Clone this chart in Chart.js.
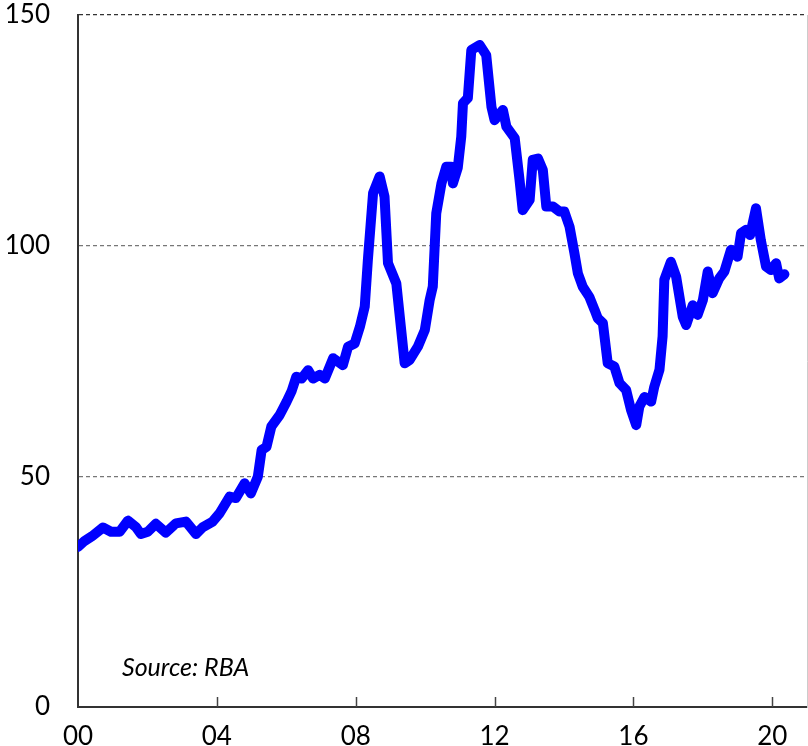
<!DOCTYPE html>
<html>
<head>
<meta charset="utf-8">
<script src="https://cdn.jsdelivr.net/npm/chart.js@4"></script>
<style>
  html, body { margin: 0; padding: 0; background: #fff; }
  #wrap { width: 808px; height: 746px; }
</style>
</head>
<body>
<div id="wrap"><canvas id="chart"></canvas></div>
<script>
// decimal years
const years = [
    2000.00, 2000.19, 2000.40, 2000.72, 2000.95, 2001.20, 2001.44, 2001.67, 2001.81, 2002.01,
    2002.24, 2002.53, 2002.82, 2003.11, 2003.40, 2003.60, 2003.88, 2004.08, 2004.37, 2004.55,
    2004.80, 2004.98, 2005.18, 2005.29, 2005.43, 2005.57, 2005.81, 2006.01, 2006.15, 2006.29,
    2006.44, 2006.63, 2006.77, 2006.96, 2007.11, 2007.35, 2007.63, 2007.78, 2007.97, 2008.12,
    2008.26, 2008.35, 2008.50, 2008.69, 2008.83, 2008.93, 2009.17, 2009.41, 2009.55, 2009.79,
    2009.99, 2010.13, 2010.22, 2010.32, 2010.47, 2010.61, 2010.75, 2010.80, 2010.94, 2011.04,
    2011.09, 2011.23, 2011.33, 2011.57, 2011.76, 2011.91, 2012.00, 2012.24, 2012.34, 2012.58,
    2012.72, 2012.81, 2013.01, 2013.10, 2013.25, 2013.39, 2013.49, 2013.68, 2013.87, 2014.01,
    2014.16, 2014.30, 2014.40, 2014.54, 2014.73, 2014.88, 2014.97, 2015.12, 2015.26, 2015.45,
    2015.60, 2015.79, 2015.93, 2016.08, 2016.17, 2016.32, 2016.51, 2016.60, 2016.75, 2016.84,
    2016.89, 2017.08, 2017.23, 2017.42, 2017.52, 2017.71, 2017.85, 2018.00, 2018.14, 2018.28,
    2018.47, 2018.62, 2018.81, 2019.00, 2019.10, 2019.24, 2019.36, 2019.53, 2019.67, 2019.82,
    2019.96, 2020.11, 2020.20, 2020.35
];
const values = [
    34.7, 36.0, 37.0, 38.9, 38.0, 38.0, 40.4, 39.0, 37.5, 38.0,
    39.7, 37.8, 39.8, 40.2, 37.5, 39.0, 40.2, 42.0, 45.6, 45.3,
    48.5, 46.3, 49.9, 55.7, 56.4, 60.8, 63.3, 66.2, 68.4, 71.6,
    71.2, 73.0, 71.2, 72.0, 71.2, 75.6, 74.1, 78.1, 78.8, 82.4,
    86.8, 96.9, 111.4, 115.0, 110.6, 96.2, 91.8, 74.5, 75.2, 78.1,
    81.7, 88.2, 91.1, 107.0, 113.5, 117.1, 117.1, 113.5, 116.9, 123.6,
    130.9, 132.0, 142.4, 143.5, 141.3, 130.1, 127.2, 129.4, 125.8, 123.3,
    114.2, 107.7, 109.9, 118.6, 118.9, 116.4, 108.5, 108.5, 107.4, 107.4,
    104.1, 98.4, 94.0, 91.1, 88.9, 86.1, 84.3, 83.2, 74.5, 73.8,
    70.2, 68.7, 64.4, 61.1, 65.1, 67.2, 66.2, 69.4, 73.1, 80.3,
    92.6, 96.5, 93.3, 84.6, 82.8, 87.1, 85.0, 88.2, 94.4, 89.7,
    92.9, 94.4, 99.1, 97.6, 102.7, 103.4, 102.3, 108.1, 101.2, 95.5,
    94.7, 96.2, 92.9, 93.8
];
const xTickYears = [2000, 2004, 2008, 2012, 2016, 2020];
const xTickLabels = ['00', '04', '08', '12', '16', '20'];
const yTicks = [0, 50, 100, 150];
const sourceNote = 'Source: RBA';

const FONT = 'Lato, "Open Sans", sans-serif';

const points = years.map((y, i) => ({ x: y, y: values[i] }));

// little tick marks on the x axis, pointing up into the plot
const innerTicks = {
    id: 'innerTicks',
    afterDraw(chart) {
        const ctx = chart.ctx;
        const xs = chart.scales.x;
        const bottom = chart.chartArea.bottom;
        ctx.save();
        ctx.strokeStyle = '#444';
        ctx.lineWidth = 1.5;
        xTickYears.forEach(v => {
            if (v === xs.min) return;
            const px = Math.round(xs.getPixelForValue(v)) + 0.5;
            ctx.beginPath();
            ctx.moveTo(px, bottom);
            ctx.lineTo(px, bottom - 10);
            ctx.stroke();
        });
        // source note
        ctx.fillStyle = '#000';
        ctx.font = 'italic 25px ' + FONT;
        ctx.textBaseline = 'middle';
        ctx.fillText(sourceNote, chart.chartArea.left + 44, bottom - 39);
        ctx.restore();
    }
};

new Chart(document.getElementById('chart'), {
    type: 'line',
    data: {
        datasets: [{
            data: points,
            borderColor: '#0000ff',
            borderWidth: 10,
            pointRadius: 0,
            tension: 0,
            borderJoinStyle: 'round',
            borderCapStyle: 'round',
            fill: false
        }]
    },
    options: {
        responsive: true,
        maintainAspectRatio: false,
        animation: false,
        layout: { padding: { top: 15, right: 0, left: 0, bottom: 0 } },
        plugins: { legend: { display: false }, tooltip: { enabled: false } },
        scales: {
            x: {
                type: 'linear',
                min: 2000,
                max: 2021,
                afterBuildTicks: s => { s.ticks = xTickYears.map(v => ({ value: v })); },
                afterFit: s => { s.height = 39; },
                grid: { display: false, drawTicks: false },
                border: { display: true, color: '#333', width: 2 },
                ticks: {
                    padding: 14,
                    maxRotation: 0,
                    autoSkip: false,
                    color: '#000',
                    font: { family: FONT, size: 26 },
                    callback: v => xTickLabels[xTickYears.indexOf(v)]
                }
            },
            y: {
                min: 0,
                max: 150,
                afterBuildTicks: s => { s.ticks = yTicks.map(v => ({ value: v })); },
                afterFit: s => {
                    s.width = 78;
                    // tick padding is pushed into the vertical padding too, drop it
                    s.paddingTop = 0;
                    s.paddingBottom = 0;
                },
                grid: {
                    drawTicks: false,
                    color: c => c.tick.value === 0 ? 'rgba(0,0,0,0)' : (c.tick.value === 150 ? '#333' : '#777'),
                    lineWidth: 1.3
                },
                border: { display: true, color: '#333', width: 2, dash: [4, 3] },
                ticks: {
                    padding: 28,
                    color: '#000',
                    font: { family: FONT, size: 26 }
                }
            },
            y2: {
                position: 'right',
                min: 0,
                max: 150,
                afterFit: s => { s.width = 1; s.paddingTop = 0; s.paddingBottom = 0; },
                grid: { display: false, drawTicks: false },
                border: { display: true, color: '#ccc', width: 1 },
                ticks: { display: false }
            }
        }
    },
    plugins: [innerTicks]
});
</script>
</body>
</html>
